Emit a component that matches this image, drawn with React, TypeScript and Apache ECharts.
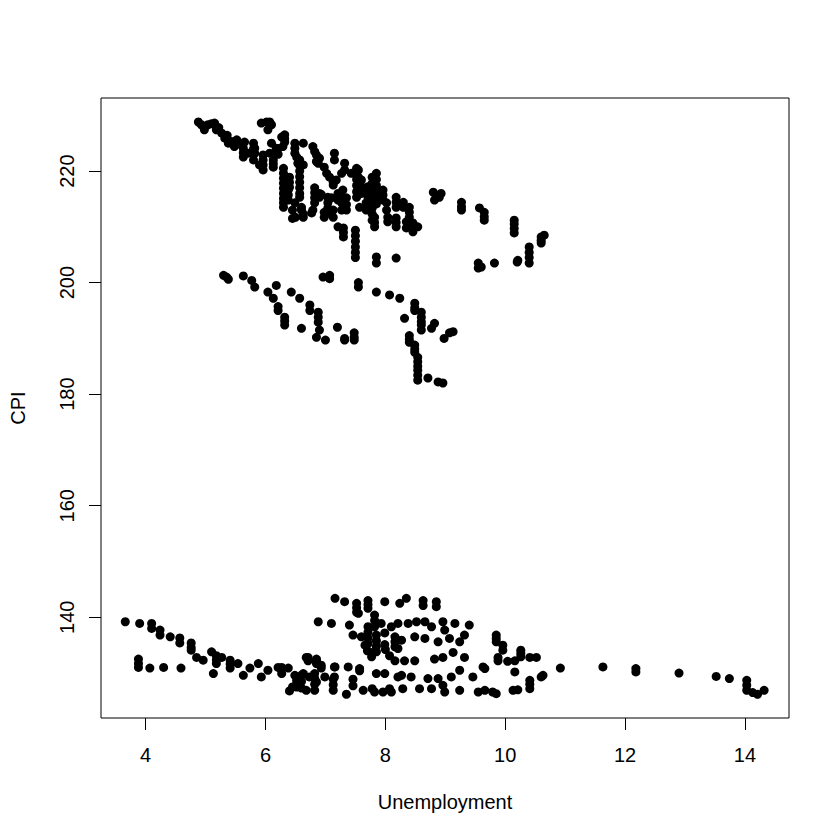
import React, { useEffect, useRef } from "react";
import * as echarts from "echarts";

// Tick labels
const xTicks = [4, 6, 8, 10, 12, 14];
const yTicks = [140, 160, 180, 200, 220];

// [Unemployment, CPI] — upper cluster
const upperCluster: number[][] = [
  [4.88,228.8],[4.93,228.3],[4.98,227.4],[5.04,228.3],[5.1,228.5],[5.15,228.6],[5.18,227.4],[5.22,227.8],[5.27,226.8],[5.32,225.9],[5.36,226.4],[5.38,225],[5.43,225.3],[5.48,224.4],[5.52,225.6],[5.58,224.8],
  [5.63,224.1],[5.63,223.3],[5.63,222.5],[5.65,225.2],[5.71,223.2],[5.8,225],[5.8,224],[5.8,223],[5.8,222],[5.82,224.1],[5.82,223.2],[5.9,221.1],[5.93,228.6],[5.96,222.9],[5.96,222],[5.96,221.1],[5.96,220.2],
  [6.02,228.8],[6.04,227.4],[6.07,228.8],[6.1,228.3],[6.1,225],[6.07,223.2],[6.13,222],[6.13,221.3],[6.13,220.7],[6.18,224.1],[6.18,223.4],[6.21,224],[6.21,223],[6.27,226.1],[6.29,224.4],[6.32,226.5],[6.32,225.8],[6.32,225.2],
  [6.3,220.5],[6.3,219.6],[6.3,218.7],[6.3,217.8],[6.3,216.9],[6.3,216],[6.3,215.1],[6.3,214.3],[6.3,213.5],
  [6.4,218.9],[6.4,218],[6.4,217.1],[6.38,216.6],[6.38,215.7],[6.38,214.8],[6.45,213],[6.45,211.5],[6.49,214.3],[6.5,211.7],
  [6.49,225],[6.49,224.1],[6.49,223.2],[6.52,222.5],[6.54,221.4],
  [6.57,222],[6.57,221],[6.57,220],[6.57,219],[6.57,218],[6.57,217],[6.57,216],[6.57,215.3],
  [6.6,213.5],[6.6,213],[6.63,225],[6.63,221.1],[6.63,212.3],[6.63,211.7],
  [6.79,224.4],[6.82,223.5],[6.85,222.9],[6.85,221.7],[6.9,222.3],[6.88,221.4],
  [6.82,217],[6.82,216.1],[6.82,215.2],[6.82,214.3],[6.77,212.5],[6.79,213],[6.9,216],[6.9,215.3],[6.93,215.8],
  [6.98,220.7],[7.02,219.6],[7.07,218.9],[7.13,218],[7.13,217.5],[7.04,215.3],[7.04,214.3],[7.04,213.4],[7.04,212.5],[6.98,212.6],[6.98,211.7],[7.1,215.2],[7.13,213],[7.13,211.7],
  [7.15,223.2],[7.15,222],[7.18,218.4],[7.21,216],[7.21,214.8],[7.27,219.6],[7.27,214.3],[7.27,213],[7.29,216.6],[7.29,215.3],[7.32,221.4],[7.32,220.2],[7.35,215.2],[7.35,214],[7.35,213],
  [7.3,209.8],[7.3,209],[7.3,208.2],[7.21,210],
  [7.43,219.6],[7.52,220.5],[7.52,219.5],[7.52,218.5],[7.52,217.4],[7.52,216.3],[7.52,215.3],[7.55,220.2],[7.55,218.9],[7.6,218.4],[7.6,217.2],[7.6,216],[7.57,213.5],
  [7.5,209.4],[7.5,208.4],[7.5,207.4],[7.5,206.4],[7.5,205.4],[7.5,204.5],
  [7.71,217.2],[7.71,216.2],[7.71,215.3],[7.68,214.3],[7.68,213],
  [7.78,218.9],[7.78,217.8],[7.78,216.7],[7.78,215.6],[7.78,214.5],[7.78,213.4],[7.78,212.3],[7.78,211.2],
  [7.85,219.6],[7.85,218.5],[7.85,217.4],[7.85,216.3],[7.85,215.2],[7.85,214.1],[7.96,216.6],[7.96,215.7],[7.96,214.8],[7.82,211.7],[7.82,210.8],[7.82,210],
  [8.02,214.3],[8.02,213],[8.04,211.7],[8.04,210.9],[8.18,215.3],[8.18,214.4],[8.18,213.5],[8.18,211.6],[8.18,210.8],[8.18,210],[8.3,214.4],[8.3,213.5],[8.35,210.9],[8.35,209.8],[8.4,213.5],[8.4,212.6],[8.4,211.7],[8.46,210.7],[8.46,209.9],[8.46,209.1],[8.54,210],
  [7.85,204.6],[7.85,203.5],[8.18,204.4],
  [8.8,216.2],[8.82,214.8],[8.93,216],[8.9,215.3],
  [9.27,214.4],[9.27,213.6],[9.27,213],[9.57,213.4],[9.65,212.6],[9.65,211.8],[9.65,211.2],
  [10.15,211.2],[10.15,210.5],[10.15,209.7],[10.15,208.9],[10.6,208.2],[10.6,207.6],[10.6,207.1],[10.65,208.5],
  [10.4,206.4],[10.4,205.4],[10.4,204.5],[10.4,203.5],[10.21,204],[10.2,203.7],[9.82,203.5],[9.55,203.5],[9.55,202.6],[9.6,202.8],
];

// middle cluster
const middleCluster: number[][] = [
  [5.3,201.3],[5.35,201],[5.38,200.6],[5.63,201.2],[5.77,200.4],[5.82,199.2],[6.04,198.3],[6.13,197.2],[6.18,199.5],[6.21,195.7],[6.21,195],[6.32,193.8],[6.32,193.1],[6.32,192.4],[6.43,198.3],[6.57,197.2],[6.74,196],[6.74,195],[6.88,194.7],[6.88,193.8],[6.88,192.9],[6.6,191.8],[6.85,190.2],[6.9,191.5],[7.0,189.7],[6.96,201],[7.07,201.3],[7.07,200.7],[7.55,200],[7.55,199.2],[7.2,192],[7.32,190],[7.32,189.7],[7.48,191],[7.48,190.2],[7.48,189.7],
  [7.85,198.3],[8.07,197.8],[8.24,197.2],[8.32,193.6],[8.49,196.3],[8.49,195.5],[8.49,195],[8.6,194.7],[8.6,193.8],[8.6,193],[8.6,192.4],[8.77,191.8],[8.82,192.7],[8.6,191.5],[8.4,190.5],[8.4,189.8],[8.4,189.3],[8.49,188.8],[8.49,188.1],[8.49,187.5],[8.54,186.6],[8.54,185.8],[8.54,185],[8.54,184.3],[8.54,183.4],[8.54,182.5],[8.71,182.9],[8.88,182.2],[8.96,182],[8.98,190],[9.07,191],[9.13,191.2],
];

// lower cluster
const lowerCluster: number[][] = [
  [3.66,139.2],[3.9,138.9],[4.1,138.9],[4.1,138],[4.24,137.7],[4.24,136.8],[4.41,136.5],[4.57,136.3],[4.57,135.4],[4.76,135.4],[4.76,134.6],[4.76,134.1],
  [3.88,132.5],[3.88,131.7],[3.88,131],[4.07,130.9],[4.3,131],[4.59,130.9],[4.85,132.8],[4.96,132.3],[5.1,133.8],[5.18,133.1],[5.18,132.4],[5.18,131.7],[5.27,132.8],[5.41,132.3],[5.41,131.6],[5.41,130.9],[5.13,129.9],[5.54,131.7],[5.63,129.6],[5.74,130.9],[5.88,131.7],[5.93,129.3],[6.04,130.5],[6.21,131],[6.38,130.9],[6.27,131],[6.27,129.9],
  [6.52,128.7],[6.52,128.1],[6.52,127.5],[6.49,129.6],[6.68,126.9],[6.63,129.9],[6.71,132.8],[6.71,132.2],[6.85,132.2],[6.85,131.7],[6.82,129.9],[6.82,129],[6.82,128],[6.82,126.9],[6.93,130.9],[7.15,131.1],[7.13,128.9],[7.13,127.9],[7.13,126.9],[7.38,131.1],[7.35,126.2],[7.46,128.9],[7.46,127.7],[7.57,130.4],[7.63,126.9],[7.82,126.6],[7.96,126.6],[8.1,126.6],[7.85,129.9],[7.99,129.9],[8.21,129.3],
  [6.6,129.6],[6.6,128.5],[6.6,127.3],[6.73,129.3],[6.85,128.4],[6.99,129.3],[7.15,129.3],[7.57,130.8],[7.78,127.2],[8.07,127.2],[8.29,127.2],[8.57,127.2],[8.77,127.2],[8.99,126.6],[9.24,126.9],[9.55,126.6],[6.4,126.8],[6.45,127.5],
  [6.68,132.8],[6.85,132.5],[6.93,131.4],[7.16,131.1],[8.27,129.6],[8.43,129.3],[8.71,129],[8.88,129],[8.96,127.8],[9.1,129.3],[9.24,130.5],[9.46,129.3],[9.63,131.1],
  [7.16,143.4],[7.32,142.8],[7.52,142.5],[7.52,141.7],[7.52,140.9],[7.71,143],[7.71,142.3],[7.71,141.6],[7.99,142.8],[8.24,142.5],[8.35,143.4],[8.63,143],[8.63,142.1],[8.85,142.8],[8.85,141.9],
  [6.88,139.2],[7.1,138.9],[7.4,138.6],[7.46,136.8],[7.6,136.5],[7.55,140.7],[7.82,140.4],[7.82,139.4],[7.82,138.3],[7.93,138.9],[7.71,138.3],[7.71,137.3],[7.71,136.3],[7.71,135.3],[7.85,136.8],[7.85,135.8],[7.85,134.8],[7.85,133.8],[7.99,137.2],[8.1,138.3],[8.21,138.9],[8.38,138.9],[8.52,139.2],[8.66,139.2],[8.77,138.3],[8.96,139.2],[9.16,138.9],[8.99,137.7],[9.07,136.2],[9.32,136.8],[9.4,138.6],[9.24,135.6],
  [8.16,136.5],[8.16,135.6],[8.16,134.7],[8.27,135.9],[8.49,136.5],[8.66,136.2],[8.88,135.6],[8.21,134.4],[7.66,135],[7.77,132.9],[8.07,133.1],[8.16,132.2],[8.32,132.2],[8.49,132.2],[8.82,132.5],[8.96,132.8],[9.13,133.7],[9.32,132.8],
  [7.82,133.9],[7.99,135.1],[7.7,134],[8.0,134.2],
  [9.85,136.8],[9.85,136.2],[9.85,135.6],[9.96,135],[9.96,134.1],[9.88,132.8],[9.88,132.2],[9.66,130.8],[10.04,132.1],[10.16,132.2],[10.26,134.1],[10.26,133.5],[10.26,132.9],[10.16,130.2],[10.41,132.8],[10.52,132.8],
  [9.66,126.9],[9.79,126.6],[9.85,126.3],[10.13,126.9],[10.21,127],[10.41,128.7],[10.41,128],[10.41,127.2],[10.6,129.3],[10.63,129.6],[10.92,130.9],[11.63,131.1],[12.18,130.8],[12.18,130.2],[12.9,130],[13.52,129.4],[13.74,129],[14.03,128.7],[14.03,127.8],[14.03,126.9],[14.13,126.5],[14.21,126.2],[14.32,126.9],
];

const FONT = '"Liberation Sans", Arial, Helvetica, sans-serif';

export default function App() {
  const ref = useRef<HTMLDivElement>(null);
  useEffect(() => {
    if (!ref.current) return;
    const chart = echarts.init(ref.current, null, { renderer: "svg" });
    const allPoints = [...upperCluster, ...middleCluster, ...lowerCluster];
    chart.setOption({
      animation: false,
      backgroundColor: "#ffffff",
      textStyle: { fontFamily: FONT },
      grid: {
        left: 98,
        top: 98,
        width: 691,
        height: 620,
        show: true,
        borderColor: "#000",
        borderWidth: 1,
        backgroundColor: "transparent",
      },
      xAxis: {
        type: "value",
        min: 3.255,
        max: 14.735,
        name: "Unemployment",
        nameLocation: "middle",
        nameGap: 74,
        nameTextStyle: { fontSize: 20, color: "#000", fontFamily: FONT },
        axisLine: { show: false },
        splitLine: { show: false },
        axisTick: {
          show: true,
          customValues: xTicks,
          length: 12,
          lineStyle: { color: "#000", width: 1 },
        },
        axisLabel: {
          customValues: xTicks,
          margin: 27,
          fontSize: 20,
          color: "#000",
          fontFamily: FONT,
        },
      },
      yAxis: {
        type: "value",
        min: 121.94,
        max: 233.1,
        name: "CPI",
        nameLocation: "middle",
        nameRotate: 90,
        nameGap: 73,
        nameTextStyle: { fontSize: 20, color: "#000", fontFamily: FONT },
        axisLine: { show: false },
        splitLine: { show: false },
        axisTick: {
          show: true,
          customValues: yTicks,
          length: 12,
          lineStyle: { color: "#000", width: 1 },
        },
        axisLabel: {
          customValues: yTicks,
          rotate: 90,
          margin: 24,
          fontSize: 20,
          color: "#000",
          fontFamily: FONT,
        },
      },
      series: [
        {
          type: "scatter",
          data: allPoints,
          symbol: "circle",
          symbolSize: 9,
          itemStyle: { color: "#000", opacity: 1 },
          emphasis: { disabled: true },
        },
      ],
    });
    return () => chart.dispose();
  }, []);
  return (
    <div
      ref={ref}
      style={{ position: "fixed", left: 0, top: 0, width: 840, height: 840, background: "#fff" }}
    />
  );
}
